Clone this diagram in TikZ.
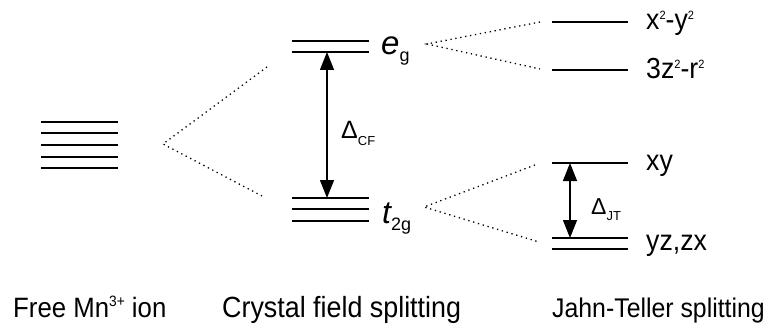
\documentclass[tikz,border=0pt]{standalone}
\usepackage{fontspec}
\setmainfont{Liberation Sans}
\newfontfamily\lblfont[FakeStretch=0.92]{Liberation Sans}
\usetikzlibrary{arrows.meta}
\newcommand{\up}[2][10pt]{\raisebox{#1}{\fontsize{12}{12}\selectfont #2}}
\newcommand{\dn}[2][-7pt]{\raisebox{#1}{\fontsize{18}{18}\selectfont #2}}

\begin{document}
\begin{tikzpicture}[x=1pt,y=-1pt,>={Triangle[length=18pt,width=14pt]},
	level/.style={line width=1.2pt},
	split/.style={line width=1.3pt,dash pattern=on 1.3pt off 3.7pt},
	lbl/.style={anchor=base west,inner sep=0pt,font=\lblfont\fontsize{28}{32}\selectfont},
	gap/.style={anchor=base west,inner sep=0pt,font=\fontsize{25}{28}\selectfont}]
	\useasboundingbox (0,0) rectangle (769,329);
	% free ion
	\foreach \y in {122,133,145,157,168} \draw[level] (41,\y) -- (118,\y);
	% crystal field
	\foreach \y in {41,52} \draw[level] (292,\y) -- (369,\y);
	\foreach \y in {198,209,221} \draw[level] (292,\y) -- (369,\y);
	% Jahn-Teller
	\foreach \y in {22,70,163,238,249} \draw[level] (552,\y) -- (628,\y);
	% dotted splittings
	\coordinate (free) at (163,144);
	\coordinate (cfup) at (267,67);
	\coordinate (cfdn) at (262,196);
	\draw[split] (cfup) -- (free) -- (cfdn);
	\coordinate (eg) at (427,44);
	\coordinate (egup) at (540,22);
	\coordinate (egdn) at (540,69);
	\draw[split] (egup) -- (eg) -- (egdn);
	\coordinate (t2g) at (424,207);
	\coordinate (t2up) at (535,165);
	\coordinate (t2dn) at (539,242);
	\draw[split] (t2up) -- (t2g) -- (t2dn);
	% gaps
	\coordinate (eglo) at (327,52);
	\coordinate (t2hi) at (327,198);
	\draw[<->,line width=1.2pt] (eglo) -- (t2hi);
	\coordinate (xyhi) at (570,163);
	\coordinate (yzhi) at (570,238);
	\draw[<->,line width=1.2pt] (xyhi) -- (yzhi);
	\node[gap] (dcf) at (341,139) {Δ\dn[-6pt]{\fontsize{13}{13}\selectfont CF}};
	\node[gap,font=\fontsize{23}{26}\selectfont] (djt) at (591,214) {Δ\dn[-6pt]{\fontsize{13}{13}\selectfont JT}};
	% level names
	\node[lbl,font=\fontsize{33}{36}\itshape] (egl) at (381,55) {e\dn{\upshape g}};
	\node[lbl,font=\fontsize{32}{36}\itshape] (t2gl) at (382,223) {t\dn{\upshape 2g}};
	\node[lbl,font=\lblfont\fontsize{29}{32}\selectfont] (x2y2) at (646,30) {x\up{2}-y\up{2}};
	\node[lbl,font=\lblfont\fontsize{29}{32}\selectfont] (z2r2) at (646,79) {3z\up{2}-r\up{2}};
	\node[lbl,font=\lblfont\fontsize{29}{32}\selectfont] (xy) at (646,170) {xy};
	\node[lbl,font=\lblfont\fontsize{29}{32}\selectfont] (yzzx) at (646,250) {yz,zx};
	% captions
	\node[lbl] (cfree) at (13,317) {Free Mn\raisebox{11pt}{\fontsize{15}{15}\selectfont 3+} ion};
	\node[lbl,font=\lblfont\fontsize{29.2}{32}\selectfont] (ccf) at (222,317) {Crystal field splitting};
	\node[lbl,font=\lblfont\fontsize{27}{32}\selectfont] (cjt) at (552,317) {Jahn-Teller splitting};
\end{tikzpicture}
\end{document}
